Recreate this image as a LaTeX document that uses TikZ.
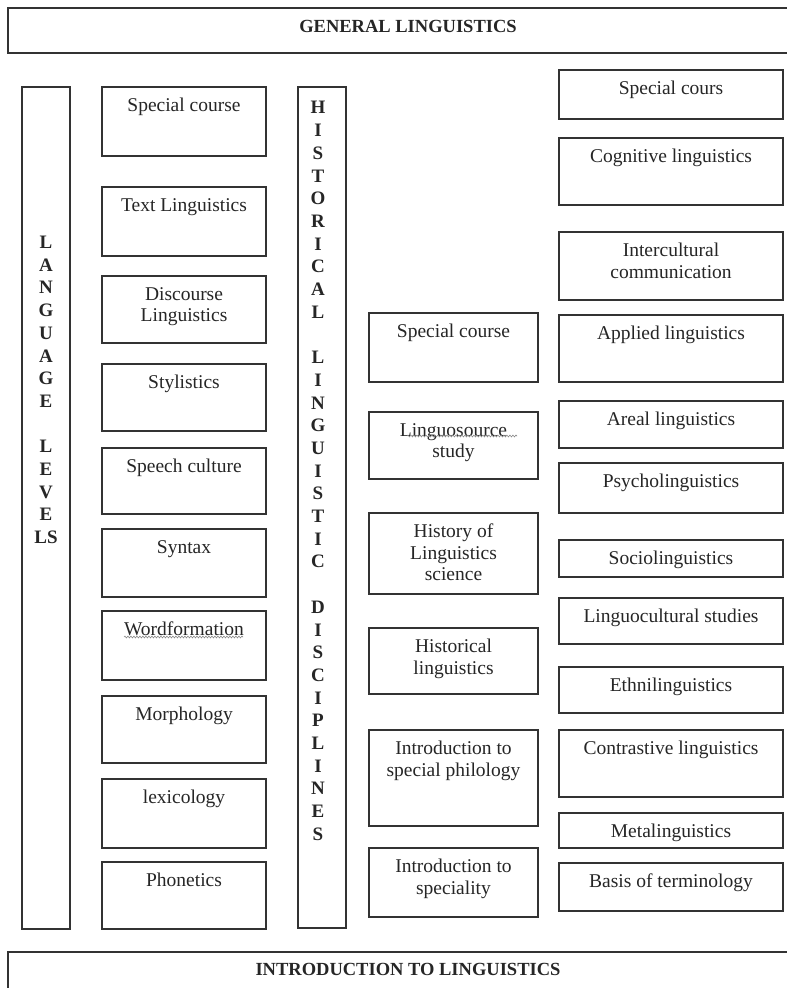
\documentclass[tikz,border=0pt]{standalone}
\usepackage{fontspec}
\setmainfont{Liberation Serif}
\usetikzlibrary{decorations.pathmorphing}
\definecolor{ink}{HTML}{262626}
\definecolor{edge}{HTML}{333333}
\definecolor{squig}{HTML}{8A8A8A}
\tikzset{
  box/.style={draw=edge, line width=1.2pt, rectangle, inner sep=0pt, outer sep=0pt, fill=white},
  lbl/.style={anchor=north, yshift=-11pt, align=center, inner sep=0pt, text=ink,
    font=\fontsize{19.5}{21.5}\selectfont},
  vtxt/.style={align=center, inner sep=0pt, text=ink, font=\fontsize{19}{22.7}\selectfont\bfseries},
  ttl/.style={anchor=north, yshift=-12pt, inner sep=0pt, text=ink, font=\fontsize{18.5}{22}\selectfont\bfseries},
  wavy/.style={draw=squig, line width=0.6pt, decorate, decoration={snake, amplitude=0.9pt, segment length=3pt}}
}
\newcommand\lbox[6]{\node[box, anchor=north west, minimum width={(#4-#2)*1pt}, minimum height={(#5-#3)*1pt}, label={[lbl]north:{#6}}] (#1) at (#2,#3) {};}
\begin{document}
\begin{tikzpicture}[x=1pt,y=-1pt]
\useasboundingbox[fill=white] (0,0) rectangle (787,988);
\clip (0,0) rectangle (787,988);

% titles
\node[box, anchor=north west, minimum width=800pt, minimum height=45pt,
  label={[ttl]north:{GENERAL LINGUISTICS}}] (gen) at (8,8) {};
\node[box, anchor=north west, minimum width=800pt, minimum height=60pt,
  label={[ttl, yshift=1pt]north:{INTRODUCTION TO LINGUISTICS}}] (intro) at (8,952) {};

% vertical bars
\node[box, anchor=north west, minimum width=48pt, minimum height=842pt] (lang) at (22,87) {};
\node[vtxt] (langtxt) at (46,390) {L\\A\\N\\G\\U\\A\\G\\E\\~\\L\\E\\V\\E\\LS};
\node[box, anchor=north west, minimum width=48pt, minimum height=841pt] (hist) at (298,87) {};
\node[vtxt] (histtxt) at (318,471) {H\\I\\S\\T\\O\\R\\I\\C\\A\\L\\~\\L\\I\\N\\G\\U\\I\\S\\T\\I\\C\\~\\D\\I\\S\\C\\I\\P\\L\\I\\N\\E\\S};

% left column
\lbox{l1}{102}{87}{266}{156}{Special course}
\lbox{l2}{102}{187}{266}{256}{Text Linguistics}
\lbox{l3}{102}{276}{266}{343}{Discourse\\Linguistics}
\lbox{l4}{102}{364}{266}{431}{Stylistics}
\lbox{l5}{102}{448}{266}{514}{Speech culture}
\lbox{l6}{102}{529}{266}{597}{Syntax}
\lbox{l7}{102}{611}{266}{680}{Wordformation}
\lbox{l8}{102}{696}{266}{763}{Morphology}
\lbox{l9}{102}{779}{266}{848}{lexicology}
\lbox{l10}{102}{862}{266}{929}{Phonetics}

% middle column
\lbox{m1}{369}{313}{538}{382}{Special course}
\lbox{m2}{369}{412}{538}{479}{Linguosource\\study}
\lbox{m3}{369}{513}{538}{594}{History of\\Linguistics\\science}
\lbox{m4}{369}{628}{538}{694}{Historical\\linguistics}
\lbox{m5}{369}{730}{538}{826}{Introduction to\\special philology}
\lbox{m6}{369}{848}{538}{917}{Introduction to\\speciality}

% right column
\lbox{r1}{559}{70}{783}{119}{Special cours}
\lbox{r2}{559}{138}{783}{205}{Cognitive linguistics}
\lbox{r3}{559}{232}{783}{300}{Intercultural\\communication}
\lbox{r4}{559}{315}{783}{382}{Applied linguistics}
\lbox{r5}{559}{401}{783}{448}{Areal linguistics}
\lbox{r6}{559}{463}{783}{513}{Psycholinguistics}
\lbox{r7}{559}{540}{783}{577}{Sociolinguistics}
\lbox{r8}{559}{598}{783}{644}{Linguocultural studies}
\lbox{r9}{559}{667}{783}{713}{Ethnilinguistics}
\lbox{r10}{559}{730}{783}{797}{Contrastive linguistics}
\lbox{r11}{559}{813}{783}{848}{Metalinguistics}
\lbox{r12}{559}{863}{783}{911}{Basis of terminology}

% spell-check squiggles
\draw[wavy] (124,637) -- (243,637);
\draw[wavy] (407,436) -- (517,436);
\end{tikzpicture}
\end{document}
